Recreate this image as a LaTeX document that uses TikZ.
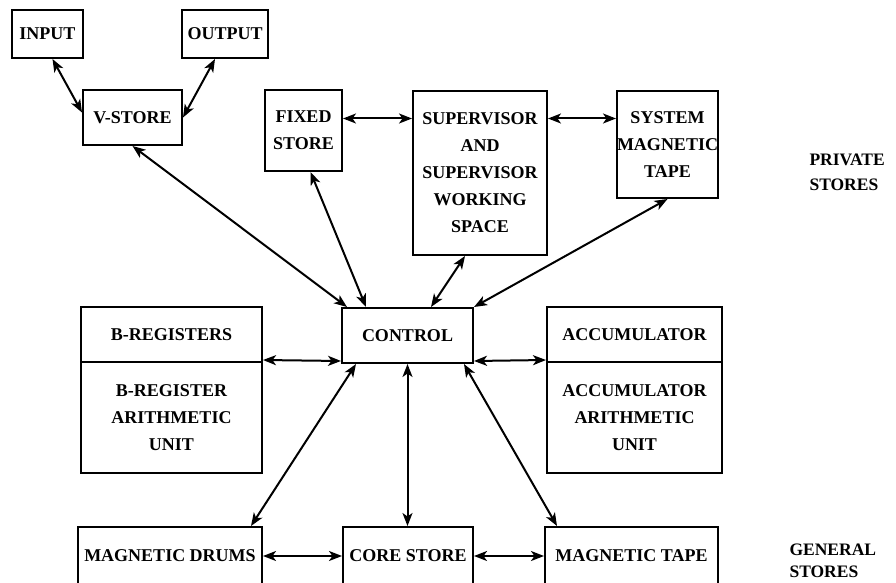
\documentclass[tikz,border=0pt]{standalone}
\usepackage{fontspec}
\setmainfont{Liberation Serif}
\usepackage{tikz}
\usetikzlibrary{arrows.meta, positioning}

\begin{document}
\begin{tikzpicture}[
  x=1pt, y=-1pt,
  every node/.style={font=\fontsize{18}{27}\selectfont\bfseries},
  box/.style={draw, line width=2pt, align=center, inner sep=0pt},
  conn/.style={line width=2pt, {Stealth[length=13pt,width=10pt,inset=3.5pt]}-{Stealth[length=13pt,width=10pt,inset=3.5pt]}}
]
\useasboundingbox (0,0) rectangle (896,583);
\node [box, minimum width=71pt, minimum height=48pt] (inp) at (47.5,34) {INPUT};
\node [box, minimum width=86pt, minimum height=48pt] (outp) at (225,34) {OUTPUT};
\node [box, minimum width=99pt, minimum height=55pt] (vstore) at (132.5,117.5) {V-STORE};
\node [box, minimum width=77pt, minimum height=81pt] (fixed) at (303.5,130.5) {FIXED\\STORE};
\node [box, minimum width=134pt, minimum height=164pt] (super) at (480,173) {SUPERVISOR\\AND\\SUPERVISOR\\WORKING\\SPACE};
\node [box, minimum width=101pt, minimum height=107pt] (systape) at (667.5,144.5) {SYSTEM\\MAGNETIC\\TAPE};
\node [box, minimum width=131pt, minimum height=55pt] (control) at (407.5,335.5) {CONTROL};
\node [box, minimum width=181pt, minimum height=55pt] (bregtop) at (171.5,334.5) {B-REGISTERS};
\node [box, minimum width=181pt, minimum height=111pt] (bregunit) at (171.5,417.5) {B-REGISTER\\ARITHMETIC\\UNIT};
\node [box, minimum width=175pt, minimum height=55pt] (acctop) at (634.5,334.5) {ACCUMULATOR};
\node [box, minimum width=175pt, minimum height=111pt] (accunit) at (634.5,417.5) {ACCUMULATOR\\ARITHMETIC\\UNIT};
\node [box, minimum width=184pt, minimum height=58pt] (drums) at (170,556) {MAGNETIC DRUMS};
\node [box, minimum width=130pt, minimum height=58pt] (core) at (408,556) {CORE STORE};
\node [box, minimum width=173pt, minimum height=58pt] (tape) at (631.5,556) {MAGNETIC TAPE};
\node [align=left, anchor=west, font=\fontsize{17.5}{25}\selectfont\bfseries] (private) at (806,172) {PRIVATE\\STORES};
\node [align=left, anchor=west, font=\fontsize{17.5}{22}\selectfont\bfseries] (general) at (786,561) {GENERAL\\STORES};

\draw [conn] ([xshift=5pt]inp.south) -- ([yshift=5pt]vstore.west);
\draw [conn] ([xshift=-10pt]outp.south) -- (vstore.east);
\draw [conn] ([yshift=12pt]fixed.east) -- ([yshift=12pt]fixed.east -| super.west);
\draw [conn] ([yshift=12pt]fixed.east -| super.east) -- ([yshift=12pt]fixed.east -| systape.west);
\draw [conn] (vstore.south) -- ([xshift=6pt]control.north west);
\draw [conn] ([xshift=7pt]fixed.south) -- ([xshift=25pt]control.north west);
\draw [conn] ([xshift=-15pt]super.south) -- ([xshift=90pt]control.north west);
\draw [conn] (systape.south) -- (control.north east);
\draw [conn] ([yshift=3pt]bregtop.south east) -- ([yshift=3pt]control.south west);
\draw [conn] ([yshift=3pt]control.south east) -- ([yshift=3pt]acctop.south west);
\draw [conn] ([xshift=15pt]control.south west) -- ([xshift=-12pt]drums.north east);
\draw [conn] (control.south) -- (control.south |- core.north);
\draw [conn] ([xshift=-10pt]control.south east) -- ([xshift=13pt]tape.north west);
\draw [conn] (drums.east) -- (core.west);
\draw [conn] (core.east) -- (tape.west);
\end{tikzpicture}
\end{document}
